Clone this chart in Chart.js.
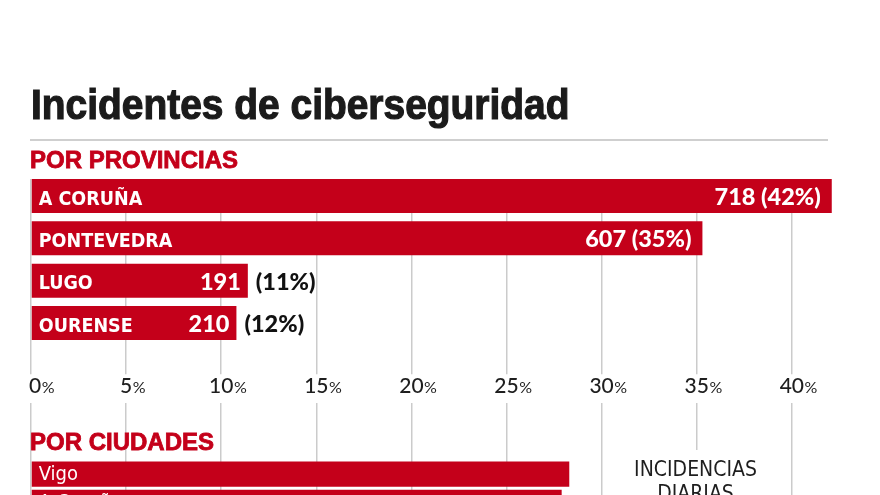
<!DOCTYPE html>
<html>
<head>
<meta charset="utf-8">
<script src="https://cdn.jsdelivr.net/npm/chart.js@4.4.0/dist/chart.umd.min.js"></script>
<style>
html, body { margin: 0; padding: 0; background: #fff; }
#wrap { position: relative; width: 880px; height: 495px; overflow: hidden; }
#wrap canvas { position: absolute; left: 0; top: 0; }
.txt { position: absolute; white-space: nowrap; line-height: 1; transform-origin: 0 0; }
#titulo { left: 31px; top: 80px; font: bold 43px 'Liberation Sans', Arial, sans-serif; color: #1b1b1b;
    transform: scaleX(0.905); -webkit-text-stroke: 1.2px #1b1b1b; }
#linea { position: absolute; left: 30px; top: 139px; width: 798px; height: 2px; background: #cfcfcf; }
.sub { font: bold 24px 'Liberation Sans', Arial, sans-serif; color: #c4001a; left: 30px;
    -webkit-text-stroke: 0.8px #c4001a; }
#provTit { top: 145.5px; }
#ciudTit { top: 427.5px; }
</style>
</head>
<body>
<div id="wrap">
    <canvas id="chartProv" width="880" height="495"></canvas>
    <canvas id="chartCiud" width="880" height="560"></canvas>
    <div class="txt" id="titulo">Incidentes de ciberseguridad</div>
    <div id="linea"></div>
    <div class="txt sub" id="provTit">POR PROVINCIAS</div>
    <div class="txt sub" id="ciudTit">POR CIUDADES</div>
</div>
<script>
// datos
const provincias = ['A CORUÑA', 'PONTEVEDRA', 'LUGO', 'OURENSE']
const provBarra = [42.1, 35.3, 11.4, 10.8]   // largo de la barra en %
const provCasos = [718, 607, 191, 210]
const provPct = [42, 35, 11, 12]

const ciudades = ['Vigo', 'A Coruña']
const ciudBarra = [28.3, 27.9]

const ticksPct = [0, 5, 10, 15, 20, 25, 30, 35, 40]

const ROJO = '#c4001a'
const GRIS = '#cbcbcb'
const NOMBRE_FONT = "'DejaVu Sans Condensed', 'DejaVu Sans', sans-serif"

function ejeX(tickLength, pos) {
    return {
        type: 'linear',
        position: pos,
        min: 0,
        max: 44,
        afterBuildTicks: (axis) => { axis.ticks = ticksPct.map(v => ({value: v})) },
        afterFit: (axis) => { axis.height = tickLength },
        border: {display: false},
        grid: {
            color: GRIS,
            lineWidth: 1.5,
            drawTicks: true,
            tickLength: tickLength,
        },
        ticks: {display: false}
    }
}

// etiquetas de provincias + ticks
const etiquetasProv = {
    id: 'etiquetasProv',
    beforeDatasetsDraw(chart) {
        // sin rejilla por encima de la primera barra
        const a = chart.chartArea
        const top = chart.getDatasetMeta(0).data[0]
        const ctx = chart.ctx
        ctx.save()
        ctx.fillStyle = '#fff'
        ctx.fillRect(a.left - 2, a.top - 1, a.right - a.left + 4, top.y - top.height / 2 - a.top + 1)
        ctx.restore()
    },
    afterDatasetsDraw(chart) {
        const ctx = chart.ctx
        const meta = chart.getDatasetMeta(0)
        ctx.save()
        ctx.textBaseline = 'alphabetic'
        meta.data.forEach((bar, i) => {
            const y = bar.y
            ctx.fillStyle = '#fff'
            ctx.textAlign = 'left'
            ctx.font = 'bold 19.5px ' + NOMBRE_FONT
            ctx.fillText(provincias[i], bar.base + 7, y + 8.5)

            ctx.font = '900 23.5px Lato, sans-serif'
            ctx.textAlign = 'right'
            if (bar.x - bar.base > 300) {
                ctx.fillText(provCasos[i] + ' (' + provPct[i] + '%)', bar.x - 11, y + 9)
            } else {
                ctx.fillText(String(provCasos[i]), bar.x - 7, y + 9)
                ctx.fillStyle = '#111'
                ctx.textAlign = 'left'
                ctx.fillText('(' + provPct[i] + '%)', bar.x + 8, y + 9)
            }
        })
        // ticks del eje
        const sx = chart.scales.x
        ticksPct.forEach(v => {
            const x = sx.getPixelForValue(v)
            ctx.font = '500 21px Lato, sans-serif'
            const num = String(v)
            const w = ctx.measureText(num).width
            const x0 = v === 0 ? x - 2 : x - w / 2
            ctx.fillStyle = '#1e1e1e'
            ctx.textAlign = 'left'
            ctx.fillText(num, x0, 393)
            ctx.font = '400 16px Lato, sans-serif'
            ctx.fillText('%', x0 + w + 0.5, 393)
        })
        ctx.restore()
    }
}

new Chart(document.getElementById('chartProv').getContext('2d'), {
    type: 'bar',
    data: {
        labels: provincias,
        datasets: [{
            data: provBarra,
            backgroundColor: ROJO,
            barPercentage: 0.803,
            categoryPercentage: 1
        }]
    },
    options: {
        indexAxis: 'y',
        responsive: false,
        animation: false,
        events: [],
        layout: {padding: {left: 31, right: 12.1, top: 174.85, bottom: 120.8}},
        plugins: {legend: {display: false}, tooltip: {enabled: false}},
        scales: {
            x: ejeX(30, 'bottom'),
            y: {display: false}
        }
    },
    plugins: [etiquetasProv]
})

// ciudades
const etiquetasCiud = {
    id: 'etiquetasCiud',
    afterDatasetsDraw(chart) {
        const ctx = chart.ctx
        const meta = chart.getDatasetMeta(0)
        ctx.save()
        meta.data.forEach((bar, i) => {
            ctx.fillStyle = '#fff'
            ctx.font = '20px ' + NOMBRE_FONT
            ctx.textAlign = 'left'
            ctx.textBaseline = 'alphabetic'
            ctx.fillText(ciudades[i], bar.base + 7, bar.y + 6)
        })
        // recuadro de incidencias diarias
        ctx.fillStyle = '#fff'
        ctx.fillRect(608, 450, 178, 110)
        ctx.fillStyle = '#1e1e1e'
        ctx.textAlign = 'center'
        ctx.font = '21px ' + NOMBRE_FONT
        ctx.fillText('INCIDENCIAS', 695.5, 476)
        ctx.fillText('DIARIAS', 695.5, 500)
        ctx.restore()
    }
}

new Chart(document.getElementById('chartCiud').getContext('2d'), {
    type: 'bar',
    data: {
        labels: ciudades,
        datasets: [{
            data: ciudBarra,
            backgroundColor: ROJO,
            barPercentage: 0.893,
            categoryPercentage: 1
        }]
    },
    options: {
        indexAxis: 'y',
        responsive: false,
        animation: false,
        events: [],
        layout: {padding: {left: 31, right: 12.1, top: 403, bottom: 43.5}},
        plugins: {legend: {display: false}, tooltip: {enabled: false}},
        scales: {
            x: ejeX(57, 'top'),
            y: {display: false}
        }
    },
    plugins: [etiquetasCiud]
})
</script>
</body>
</html>
